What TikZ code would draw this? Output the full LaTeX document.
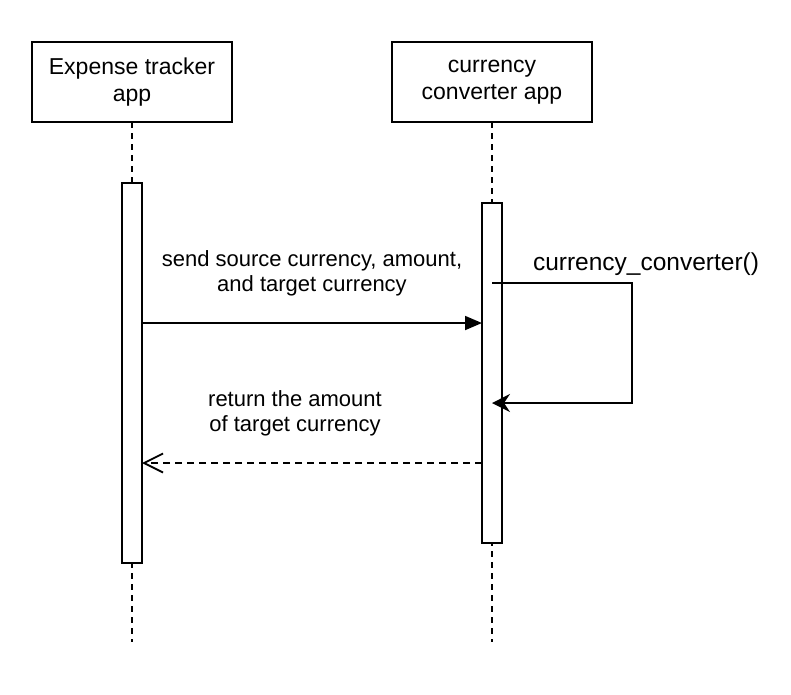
\documentclass[tikz,border=0pt]{standalone}
\usepackage{fontspec}
\setmainfont{Liberation Sans}
\usetikzlibrary{arrows.meta}
\begin{document}
\begin{tikzpicture}[x=1pt,y=-1pt,
  every node/.style={inner sep=0pt, outer sep=0pt},
  actor/.style={draw, line width=1.8pt, fill=white, minimum width=200pt, minimum height=80pt, align=center, font=\fontsize{23}{27}\selectfont},
  actbar/.style={draw, line width=1.8pt, fill=white, minimum width=20pt},
  lifeline/.style={line width=1.8pt, dash pattern=on 6pt off 5pt},
  msglabel/.style={align=center, font=\fontsize{22}{25}\selectfont},
  callmsg/.style={line width=1.8pt, -{Triangle[length=17pt,width=14pt]}},
  selfmsg/.style={line width=1.8pt, -{Stealth[length=18pt,width=18pt,inset=6pt]}},
  retmsg/.style={line width=1.8pt, dash pattern=on 7pt off 5pt, -{Straight Barb[length=19pt,width=19pt,line width=1.8pt]}}
]
\useasboundingbox (0,0) rectangle (791,694);
\node[actor] (A) at (132,82) {Expense tracker\\app};
\node[actor] (B) at (492,82) {currency\\converter app};
\coordinate (endA) at (132,642);
\coordinate (endB) at (492,642);
\draw[lifeline] (A.south) -- (endA);
\draw[lifeline] (B.south) -- (endB);
\node[actbar, minimum height=380pt] (actA) at (132,373) {};
\node[actbar, minimum height=340pt] (actB) at (492,373) {};
\coordinate (sendy) at (0,323);
\coordinate (selftop) at (0,283);
\coordinate (selfbot) at (0,403);
\coordinate (rety) at (0,463);
\coordinate (selfx) at (632,0);
\draw[callmsg] (actA.east |- sendy) -- (actB.west |- sendy);
\draw[selfmsg] (actB.center |- selftop) -- (selfx |- selftop) -- (selfx |- selfbot) -- (actB.center |- selfbot);
\draw[retmsg] (actB.west |- rety) -- (actA.east |- rety);
\node[msglabel] (sendlbl) at (312,273) {send source currency, amount,\\and target currency};
\node[msglabel] (retlbl) at (295,413) {return the amount\\of target currency};
\node[msglabel, font=\fontsize{24.5}{28}\selectfont] (selflbl) at (646,264) {currency\_converter()};
\end{tikzpicture}
\end{document}
